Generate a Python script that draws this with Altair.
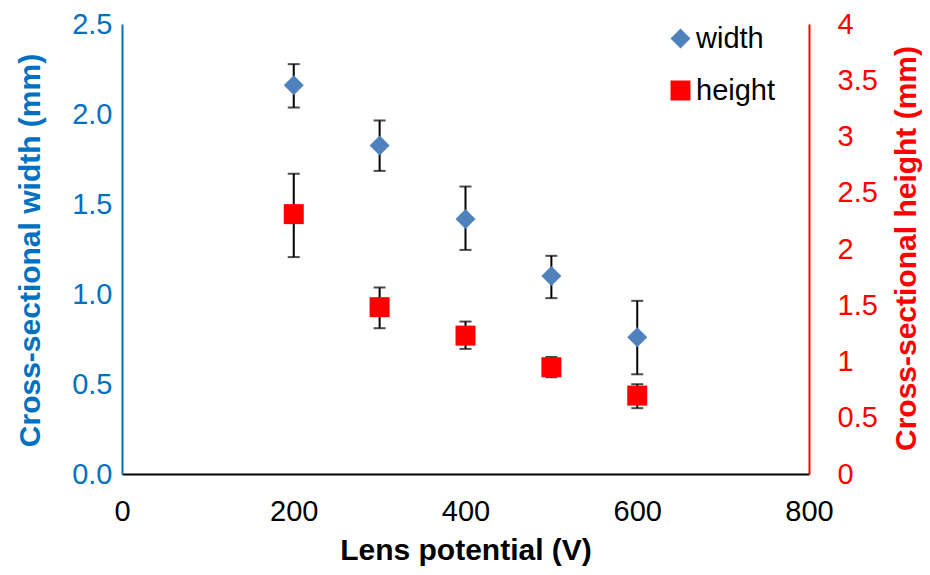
import altair as alt
import pandas as pd

# ---- data ----
voltage = [200, 300, 400, 500, 600]
width_mm = [2.16, 1.825, 1.416, 1.10, 0.760]
width_lo = [2.036, 1.684, 1.245, 0.977, 0.554]
width_hi = [2.277, 1.964, 1.597, 1.212, 0.962]
height_mm = [2.31, 1.483, 1.23, 0.949, 0.697]
height_lo = [1.928, 1.296, 1.112, 0.86, 0.585]
height_hi = [2.669, 1.658, 1.355, 1.04, 0.798]
x_ticks = [0, 200, 400, 600, 800]
w_ticks = [0, 0.5, 1.0, 1.5, 2.0, 2.5]
h_ticks = [0, 0.5, 1, 1.5, 2, 2.5, 3, 3.5, 4]
series = ["width", "height"]

BLUE_MARK = "#4F81BD"
BLUE_AX = "#0070C0"
RED = "#FF0000"
FONT = "Liberation Sans"

dw = pd.DataFrame({"V": voltage, "val": width_mm, "lo": width_lo, "hi": width_hi, "series": "width"})
dh = pd.DataFrame({"V": voltage, "val": height_mm, "lo": height_lo, "hi": height_hi, "series": "height"})

x_axis = alt.Axis(values=x_ticks, title="Lens potential (V)", ticks=False, tickSize=0, grid=False,
                  domainColor="black", domainWidth=2, labelColor="black", labelFontSize=29,
                  labelFont=FONT, titleFont=FONT, titleFontSize=30, titleFontWeight="bold",
                  titleColor="black", labelPadding=23, titlePadding=9, labelFlush=False)
x_enc = alt.X("V:Q", scale=alt.Scale(domain=[0, 800], nice=False, zero=False), axis=x_axis)

color = alt.Color("series:N", scale=alt.Scale(domain=series, range=[BLUE_MARK, RED]),
                  legend=alt.Legend(title=None, orient="none", legendX=544, legendY=0,
                                    labelFontSize=29, labelFont=FONT, labelColor="black",
                                    symbolSize=400, symbolStrokeWidth=0, rowPadding=22,
                                    labelOffset=1, padding=0))
shape = alt.Shape("series:N", scale=alt.Scale(domain=series, range=["diamond", "square"]))

def layer(df, field_title, ticks, fmt, dom, col, orient, label_pad, title_x, title_y):
    axis = alt.Axis(values=ticks, format=fmt, title=field_title, orient=orient, ticks=False, tickSize=0,
                    grid=False, domainColor=col, domainWidth=2, labelColor=col, titleColor=col,
                    labelFontSize=29, labelFont=FONT, titleFont=FONT, titleFontSize=30,
                    titleFontWeight="bold", labelPadding=label_pad,
                    titleAngle=270, titleX=title_x, titleY=title_y,
                    titleAlign="center", titleBaseline="middle")
    sc = alt.Scale(domain=dom, nice=False, zero=False)
    base = alt.Chart(df)
    rules = base.mark_rule(color="black", strokeWidth=2).encode(
        x=x_enc, y=alt.Y("lo:Q", scale=sc, axis=axis), y2="hi:Q")
    cap_lo = base.mark_tick(color="black", orient="horizontal", size=12, thickness=2).encode(
        x=x_enc, y=alt.Y("lo:Q", scale=sc, axis=axis))
    cap_hi = base.mark_tick(color="black", orient="horizontal", size=12, thickness=2).encode(
        x=x_enc, y=alt.Y("hi:Q", scale=sc, axis=axis))
    pts = base.mark_point(filled=True, size=400, opacity=1, strokeWidth=0).encode(
        x=x_enc, y=alt.Y("val:Q", scale=sc, axis=axis), color=color, shape=shape)
    return alt.layer(rules, cap_lo, cap_hi, pts)

left = layer(dw, "Cross-sectional width (mm)", w_ticks, ".1f", [0, 2.5], BLUE_AX, "left", 10, -92, 226)
right = layer(dh, "Cross-sectional height (mm)", h_ticks, "~g", [0, 4], RED, "right", 28, 97, 224)

chart = alt.layer(left, right).resolve_scale(y="independent").properties(
    width=687, height=450,
    autosize=alt.AutoSizeParams(type="none"),
    padding={"left": 114, "top": 16, "right": 113, "bottom": 93},
    background="white",
).configure_view(stroke=None)

chart.save("out.html", embed_options={"renderer": "svg", "actions": False})
